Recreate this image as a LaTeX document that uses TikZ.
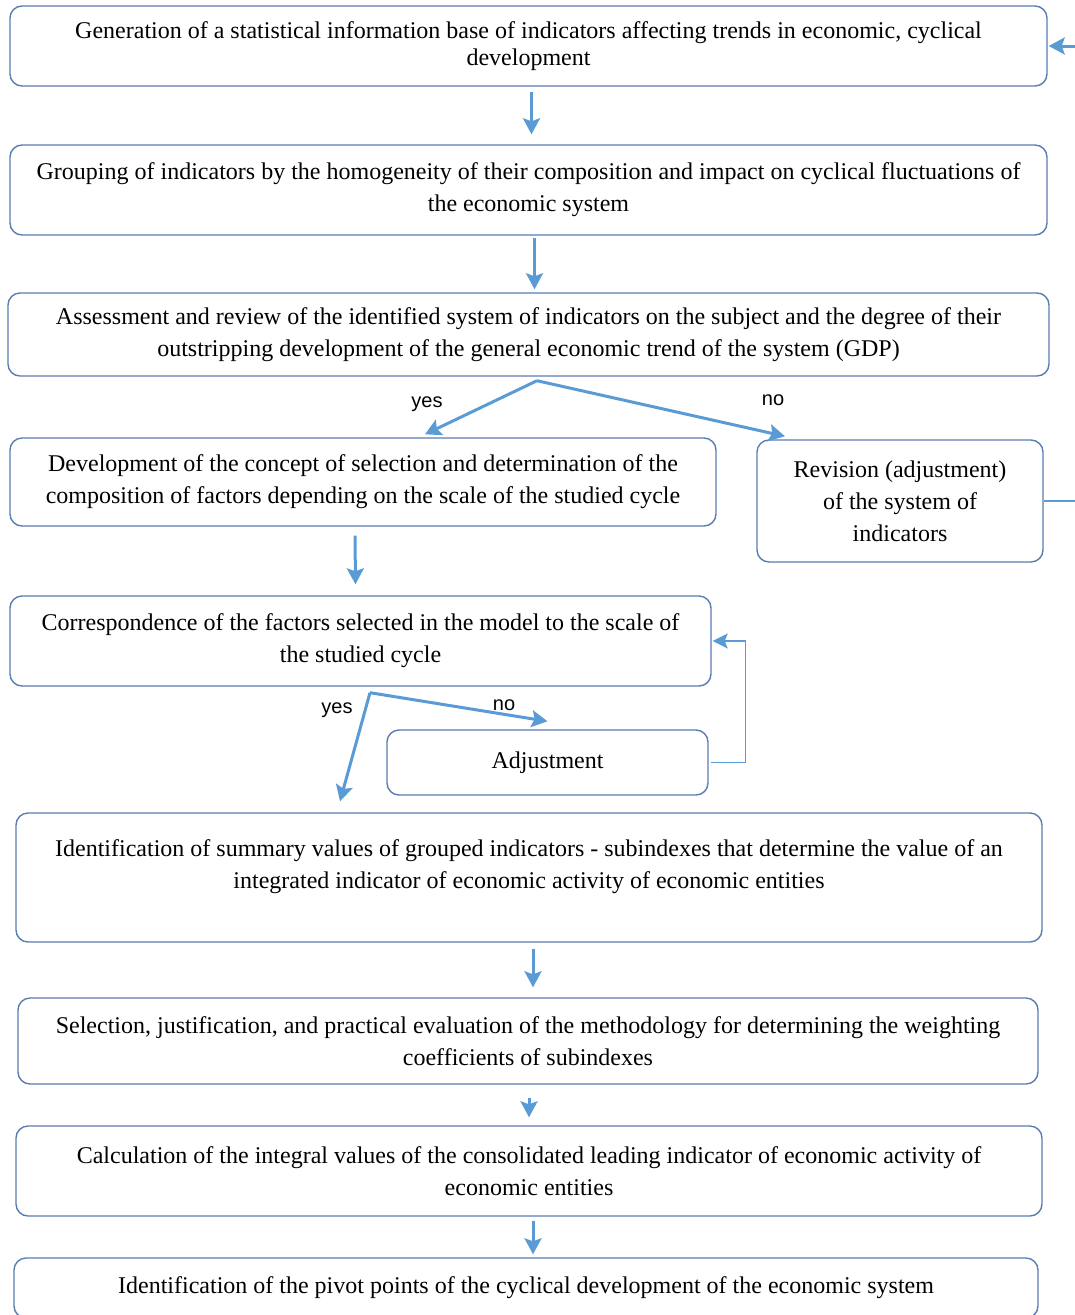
\documentclass[tikz,border=0pt]{standalone}
\usepackage{fontspec}
\setmainfont{Liberation Serif}
\newfontfamily\answerfont{Liberation Sans}
\usetikzlibrary{arrows.meta}
\definecolor{boxline}{HTML}{5A7DB0}
\definecolor{flowblue}{HTML}{5B9BD5}
\tikzset{
  stagebox/.style={draw=boxline, line width=1.4pt, rounded corners=12pt, align=center, inner sep=0pt, font=\fontsize{24}{32}\selectfont},
  flow/.style={draw=flowblue, line width=3pt, -{Stealth[length=16pt,width=17pt,inset=3pt]}},
  backline/.style={draw=flowblue, line width=1.3pt},
  answer/.style={font=\answerfont\fontsize{20}{22}\selectfont}
}

\begin{document}
\begin{tikzpicture}[x=1pt, y=-1pt]
      \useasboundingbox (0,0) rectangle (1074,1315);

      % Stages of the method
      \node[stagebox, minimum width=1037pt, minimum height=80pt, font=\fontsize{24}{27}\selectfont] (gen) at (528.5,46)
        {Generation of a statistical information base of indicators affecting trends in economic, cyclical\\ development};
      \node[stagebox, minimum width=1037pt, minimum height=90pt] (group) at (528.5,190)
        {Grouping of indicators by the homogeneity of their composition and impact on cyclical fluctuations of\\ the economic system};
      \node[stagebox, minimum width=1041pt, minimum height=83pt] (assess) at (528.5,334.5)
        {Assessment and review of the identified system of indicators on the subject and the degree of their\\ outstripping development of the general economic trend of the system (GDP)};
      \node[stagebox, minimum width=706pt, minimum height=88pt] (concept) at (363,482)
        {Development of the concept of selection and determination of the\\ composition of factors depending on the scale of the studied cycle};
      \node[stagebox, minimum width=286pt, minimum height=122pt] (revision) at (900,501)
        {Revision (adjustment)\\ of the system of\\ indicators};
      \node[stagebox, minimum width=701pt, minimum height=90pt] (corresp) at (360.5,641)
        {Correspondence of the factors selected in the model to the scale of\\ the studied cycle};
      \node[stagebox, minimum width=321pt, minimum height=65pt] (adjust) at (547.5,762.5)
        {Adjustment};
      \node[stagebox, minimum width=1026pt, minimum height=129pt] (subidx) at (529,877.5)
        {Identification of summary values of grouped indicators - subindexes that determine the value of an\\ integrated indicator of economic activity of economic entities\\[-14pt] \strut};
      \node[stagebox, minimum width=1020pt, minimum height=86pt] (weights) at (528,1041)
        {Selection, justification, and practical evaluation of the methodology for determining the weighting\\ coefficients of subindexes};
      \node[stagebox, minimum width=1026pt, minimum height=90pt] (integral) at (529,1171)
        {Calculation of the integral values of the consolidated leading indicator of economic activity of\\ economic entities};
      \node[stagebox, minimum width=1024pt, minimum height=60pt] (pivot) at (526,1288)
        {Identification of the pivot points of the cyclical development of the economic system};

      % Straight arrows down
      \draw[flow] ([xshift=3pt,yshift=-5pt]gen.south) -- ([xshift=3pt,yshift=10pt]group.north);
      \draw[flow] ([xshift=6pt,yshift=-2pt]group.south) -- ([xshift=6pt,yshift=3pt]assess.north);
      \draw[flow] ([xshift=-8pt,yshift=-9pt]concept.south) -- ([xshift=-5pt,yshift=11pt]corresp.north);
      \draw[flow] ([xshift=4pt,yshift=-6pt]subidx.south) -- ([xshift=5pt,yshift=10pt]weights.north);
      \draw[flow] ([xshift=1pt,yshift=-13pt]weights.south) -- ([yshift=8pt]integral.north);
      \draw[flow] ([xshift=4pt,yshift=-4pt]integral.south) -- ([xshift=7pt,yshift=3pt]pivot.north);

      % First check: yes / no
      \coordinate (fork1) at ([xshift=8.5pt,yshift=-4pt]assess.south);
      \draw[flow] (fork1) -- ([xshift=62pt,yshift=3pt]concept.north);
      \draw[flow] (fork1) -- ([xshift=-115pt,yshift=3pt]revision.north);
      \node[answer] (yes1) at (427,404) {yes};
      \node[answer] (no1) at (773,400) {no};

      % Second check: yes / no
      \coordinate (fork2) at ([xshift=9.5pt,yshift=-6pt]corresp.south);
      \draw[flow] (fork2) -- ([xshift=-189pt,yshift=11pt]subidx.north);
      \draw[flow] (fork2) -- ([yshift=8pt]adjust.north);
      \node[answer] (yes2) at (337,710) {yes};
      \node[answer] (no2) at (504,705) {no};

      % Returns to earlier stages
      \draw[backline, -{Stealth[length=15pt,width=15pt,inset=3pt]}] ([xshift=2pt]adjust.east) -- ++(35pt,0) |- ([xshift=1pt]corresp.east);
      \draw[backline] (revision.east) -- ++(40pt,0);
      \draw[flow] ([xshift=35pt]gen.east) -- ([xshift=1pt]gen.east);
    \end{tikzpicture}
\end{document}
